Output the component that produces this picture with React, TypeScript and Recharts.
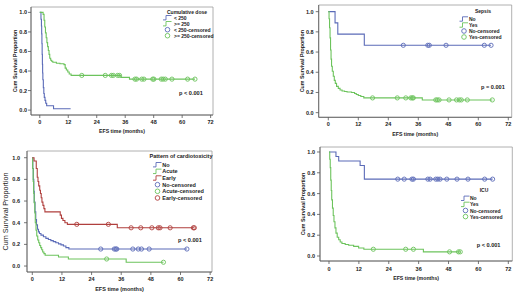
import React from 'react';
import { ComposedChart, Line, Scatter, XAxis, YAxis, ReferenceArea, Legend } from 'recharts';

const BLUE = '#5b6bb8';
const GREEN = '#6cc35c';
const RED = '#b03f3d';
const FONT = '"Liberation Sans", Arial, sans-serif';

const monthTicks = [0, 12, 24, 36, 48, 60, 72];
const survTicks = [0, 0.2, 0.4, 0.6, 0.8, 1.0];

// Cumulative dose: < 250
const doseLowT = [0, 0.5, 0.7, 0.8, 0.9, 1.0, 1.1, 1.2, 1.3, 1.5, 1.7, 1.9, 2.2, 2.5, 2.9, 5.8, 13];
const doseLowS = [1.0, 0.93, 0.86, 0.78, 0.68, 0.57, 0.47, 0.38, 0.31, 0.23, 0.17, 0.13, 0.1, 0.07, 0.045, 0.014, 0.014];
// Cumulative dose: >= 250
const doseHighT = [0, 1.4, 1.8, 2.1, 2.4, 2.7, 3.0, 3.3, 3.6, 3.9, 4.2, 4.6, 5.0, 5.5, 7.0, 8.5, 10.2, 10.7, 11.2, 11.8, 12.4, 13.2, 34.2, 37.8, 65.4];
const doseHighS = [1.0, 0.98, 0.92, 0.85, 0.79, 0.74, 0.69, 0.65, 0.61, 0.57, 0.53, 0.51, 0.5, 0.49, 0.48, 0.475, 0.465, 0.43, 0.41, 0.39, 0.37, 0.355, 0.335, 0.317, 0.317];
const doseHighCensA = [17.7, 27.6, 30.2, 31, 32.8, 33.6];
const doseHighCensB = [40.1, 40.8, 43, 43.9, 47.6, 48.1, 51.2, 52, 52.9, 55.7, 62.3, 65.4];

// Sepsis: No / Yes
const sepsisNoT = [0, 2.7, 3.8, 14.4, 65.1];
const sepsisNoS = [1, 0.889, 0.778, 0.667, 0.667];
const sepsisNoCens = [30, 39.8, 40.4, 47.1, 62.4, 65.1];
const sepsisYesT = [0, 0.3, 0.5, 0.7, 0.9, 1.1, 1.3, 1.6, 2.0, 2.4, 2.8, 3.3, 4.0, 4.7, 5.5, 6.5, 7.5, 9.3, 10.5, 11.2, 12, 13, 14.2, 37.6, 65.6];
const sepsisYesS = [1, 0.93, 0.84, 0.74, 0.62, 0.53, 0.46, 0.41, 0.36, 0.32, 0.29, 0.26, 0.24, 0.225, 0.215, 0.21, 0.205, 0.2, 0.19, 0.18, 0.17, 0.16, 0.146, 0.126, 0.126];
const sepsisYesCensA = [17.7, 27.6, 31, 33, 33.6, 34];
const sepsisYesCensB = [43, 43.6, 44.3, 48.3, 51.3, 52.4, 53.2, 55.6, 65.6];

// Pattern of cardiotoxicity: No / Acute / Early
const cardioNoT = [0, 0.2, 0.4, 0.6, 0.8, 1.1, 1.4, 1.7, 2.1, 2.5, 2.9, 3.5, 4.5, 5.5, 6.5, 7.5, 8.5, 9.5, 10.6, 11.6, 12.6, 13.6, 14.8, 62.6];
const cardioNoS = [1, 0.9, 0.8, 0.69, 0.59, 0.5, 0.43, 0.38, 0.34, 0.315, 0.3, 0.285, 0.27, 0.255, 0.245, 0.235, 0.225, 0.215, 0.205, 0.195, 0.185, 0.17, 0.157, 0.157];
const cardioNoCens = [27.7, 33.2, 33.8, 34.2, 40.7, 42.9, 44.2, 47.3, 62.6];
const cardioAcuteT = [0, 0.15, 0.35, 0.55, 0.75, 1.0, 1.2, 1.5, 1.8, 2.2, 2.6, 3.0, 3.4, 3.8, 4.2, 4.7, 5.2, 10.6, 14.6, 38, 53.1];
const cardioAcuteS = [1, 0.9, 0.78, 0.67, 0.585, 0.49, 0.4, 0.33, 0.277, 0.24, 0.215, 0.19, 0.17, 0.15, 0.13, 0.115, 0.1, 0.083, 0.065, 0.035, 0.035];
const cardioAcuteCensA = [30.1];
const cardioAcuteCensB = [53.1];
const cardioEarlyT = [0, 0.7, 1.6, 2.0, 2.3, 2.6, 3.0, 3.3, 3.6, 3.9, 4.3, 4.7, 5.1, 11.3, 11.8, 12.4, 13.2, 14.2, 34.4, 65.6];
const cardioEarlyS = [1, 0.97, 0.9, 0.82, 0.78, 0.74, 0.7, 0.67, 0.63, 0.59, 0.56, 0.53, 0.5, 0.47, 0.44, 0.42, 0.4, 0.385, 0.353, 0.353];
const cardioEarlyCensA = [18, 30.8];
const cardioEarlyCensB = [40, 43.9, 48.4, 51, 51.7, 55.8, 65.2, 65.6];

// ICU: No / Yes
const icuNoT = [0, 2.8, 3.9, 12.5, 14.2, 65.7];
const icuNoS = [1, 0.957, 0.913, 0.87, 0.739, 0.739];
const icuNoCens = [27.6, 30.2, 33.3, 33.9, 39.7, 40.6, 42.9, 43.7, 44.6, 47.3, 51.4, 55.8, 62.5, 65.7];
const icuYesT = [0, 0.3, 0.5, 0.7, 0.9, 1.1, 1.4, 1.7, 2.0, 2.4, 2.8, 3.3, 3.9, 4.5, 5.2, 6.5, 7.9, 9.9, 11.9, 14.0, 37.9, 52.7];
const icuYesS = [1, 0.93, 0.85, 0.73, 0.63, 0.54, 0.46, 0.39, 0.33, 0.27, 0.22, 0.18, 0.157, 0.135, 0.12, 0.11, 0.103, 0.093, 0.077, 0.065, 0.04, 0.04];
const icuYesCensA = [17.8, 30.8, 33.9];
const icuYesCensB = [48.4, 52, 52.7];

const steps = (t: number[], s: number[]) => t.map((x, i) => ({ t: x, s: s[i] }));
const marks = (t: number[], level: number) => t.map((x) => ({ t: x, s: level }));

type LegendItem = { kind: 'line' | 'circle'; color: string; label: string };

function KMLegend({ title, items, w, titleY, rowY, rowH, iconX, textX, fs }: any) {
  const h = rowY + rowH * items.length;
  const txt = { fontFamily: FONT, fontSize: fs, fontWeight: 'bold' as const, fill: '#222' };
  return (
    <svg width={w} height={h} style={{ display: 'block', overflow: 'visible' }}>
      <text x={w / 2} y={titleY} textAnchor="middle" dominantBaseline="central" {...txt}>{title}</text>
      {items.map((it: LegendItem, i: number) => {
        const y = rowY + i * rowH;
        return (
          <g key={i}>
            {it.kind === 'line' ? (
              <path d={`M${iconX},${y + 2.2} h3 v-4.4 h5.5`} stroke={it.color} strokeWidth={0.9} fill="none" />
            ) : (
              <circle cx={iconX + 4.5} cy={y} r={2.3} stroke={it.color} strokeWidth={0.9} fill="none" />
            )}
            <text x={textX} y={y} dominantBaseline="central" {...txt}>{it.label}</text>
          </g>
        );
      })}
    </svg>
  );
}

const circleShape = (color: string) => (props: any) => (
  <circle cx={props.cx} cy={props.cy} r={2.1} stroke={color} strokeWidth={0.9} fill="none" />
);

function KMPanel(p: any) {
  const tickStyle = { fontSize: p.tickFs ?? 5.5, fill: '#222', fontWeight: 'bold', fontFamily: FONT };
  const axisStroke = { stroke: '#555', strokeWidth: 0.8 };
  return (
    <div style={{ position: 'absolute', left: p.left, top: p.top, width: p.width, height: p.height }}>
      <ComposedChart width={p.width} height={p.height} margin={p.margin}>
        <XAxis
          type="number"
          dataKey="t"
          domain={p.xDomain}
          ticks={monthTicks}
          allowDataOverflow
          height={p.xh}
          tick={tickStyle}
          tickSize={3}
          tickMargin={p.xTickMargin}
          axisLine={axisStroke}
          tickLine={axisStroke}
          label={{
            value: 'EFS time (months)',
            position: 'insideBottom',
            offset: p.xLabelOffset,
            style: { fontSize: p.xLabelFs ?? 5.2, fontWeight: 'bold', fill: '#222', fontFamily: FONT },
          }}
        />
        <YAxis
          type="number"
          dataKey="s"
          domain={p.yDomain}
          ticks={survTicks}
          allowDataOverflow
          width={p.yw}
          tick={tickStyle}
          tickSize={3}
          tickMargin={p.yTickMargin}
          tickFormatter={(v: number) => v.toFixed(1)}
          axisLine={axisStroke}
          tickLine={axisStroke}
          label={{
            value: 'Cum Survival Proportion',
            angle: -90,
            position: 'insideLeft',
            offset: p.yLabelOffset,
            style: {
              textAnchor: 'middle',
              fontSize: p.yLabelFs ?? 5.3,
              fontWeight: p.yLabelWeight ?? 'bold',
              fill: '#222',
              fontFamily: FONT,
            },
          }}
        />
        <ReferenceArea
          x1={p.xDomain[0]}
          x2={p.xDomain[1]}
          y1={p.yDomain[0]}
          y2={p.yDomain[1]}
          fill="none"
          stroke="#9d9d9d"
          strokeWidth={0.8}
          ifOverflow="visible"
        />
        {p.curves.map((c: any, i: number) => (
          <Line
            key={'c' + i}
            data={c.data}
            dataKey="s"
            type="stepAfter"
            stroke={c.color}
            strokeWidth={1.1}
            dot={false}
            isAnimationActive={false}
          />
        ))}
        {p.censored.map((c: any, i: number) => (
          <Scatter
            key={'m' + i}
            data={c.data}
            dataKey="s"
            shape={circleShape(c.color)}
            isAnimationActive={false}
          />
        ))}
        <Legend
          layout="vertical"
          align="center"
          verticalAlign="middle"
          wrapperStyle={{ left: p.legend.left, top: p.legend.top, width: p.legend.w }}
          content={() => <KMLegend {...p.legend} />}
        />
      </ComposedChart>
      <div
        style={{
          position: 'absolute',
          left: p.pText.left,
          top: p.pText.cy - 4,
          height: 8,
          lineHeight: '8px',
          fontFamily: FONT,
          fontSize: 5.6,
          fontWeight: 'bold',
          color: '#222',
          whiteSpace: 'nowrap',
        }}
      >
        {p.pText.text}
      </div>
    </div>
  );
}

export default function App() {
  return (
    <div style={{ position: 'absolute', left: 0, top: 0, width: 520, height: 293, background: '#fff', overflow: 'hidden' }}>
      <KMPanel
        left={0}
        top={0}
        width={260}
        height={146}
        margin={{ top: 7, right: 47, bottom: 0, left: 0 }}
        yw={31}
        xh={31}
        xDomain={[-3.7, 73]}
        yDomain={[-0.05, 1.055]}
        yTickMargin={1}
        xTickMargin={2}
        yLabelOffset={15}
        xLabelOffset={13}
        curves={[
          { data: steps(doseLowT, doseLowS), color: BLUE },
          { data: steps(doseHighT, doseHighS), color: GREEN },
        ]}
        censored={[
          { data: marks(doseHighCensA, 0.355), color: GREEN },
          { data: marks(doseHighCensB, 0.317), color: GREEN },
        ]}
        legend={{
          left: 161, top: 7, w: 52, titleY: 4.7, rowY: 10.7, rowH: 6, iconX: 2, textX: 13, fs: 5,
          title: 'Cumulative dose',
          items: [
            { kind: 'line', color: BLUE, label: '< 250' },
            { kind: 'line', color: GREEN, label: '>= 250' },
            { kind: 'circle', color: BLUE, label: '< 250-censored' },
            { kind: 'circle', color: GREEN, label: '>= 250-censored' },
          ],
        }}
        pText={{ text: 'p < 0.001', left: 179, cy: 92.7 }}
      />
      <KMPanel
        left={260}
        top={0}
        width={260}
        height={146}
        margin={{ top: 5, right: 8.3, bottom: 0, left: 0 }}
        yw={58.7}
        xh={28.7}
        xDomain={[-3.84, 73.36]}
        yDomain={[-0.046, 1.066]}
        yTickMargin={2}
        xTickMargin={2}
        yLabelOffset={42.3}
        xLabelOffset={10}
        curves={[
          { data: steps(sepsisNoT, sepsisNoS), color: BLUE },
          { data: steps(sepsisYesT, sepsisYesS), color: GREEN },
        ]}
        censored={[
          { data: marks(sepsisNoCens, 0.667), color: BLUE },
          { data: marks(sepsisYesCensA, 0.146), color: GREEN },
          { data: marks(sepsisYesCensB, 0.126), color: GREEN },
        ]}
        legend={{
          left: 198, top: 5, w: 50, titleY: 6, rowY: 14, rowH: 6, iconX: 1.5, textX: 11, fs: 5,
          title: 'Sepsis',
          items: [
            { kind: 'line', color: BLUE, label: 'No' },
            { kind: 'line', color: GREEN, label: 'Yes' },
            { kind: 'circle', color: BLUE, label: 'No-censored' },
            { kind: 'circle', color: GREEN, label: 'Yes-censored' },
          ],
        }}
        pText={{ text: 'p = 0.001', left: 221, cy: 86.7 }}
      />
      <KMPanel
        left={0}
        top={146}
        width={260}
        height={147}
        margin={{ top: 5, right: 48, bottom: 0, left: 0 }}
        yw={27}
        xh={21}
        xDomain={[-2.15, 72.75]}
        yDomain={[-0.055, 1.062]}
        yTickMargin={4}
        xTickMargin={1.6}
        yLabelOffset={5}
        xLabelOffset={2.5}
        yLabelFs={7.2}
        yLabelWeight="normal"
        xLabelFs={5.5}
        curves={[
          { data: steps(cardioNoT, cardioNoS), color: BLUE },
          { data: steps(cardioAcuteT, cardioAcuteS), color: GREEN },
          { data: steps(cardioEarlyT, cardioEarlyS), color: RED },
        ]}
        censored={[
          { data: marks(cardioNoCens, 0.157), color: BLUE },
          { data: marks(cardioAcuteCensA, 0.065), color: GREEN },
          { data: marks(cardioAcuteCensB, 0.035), color: GREEN },
          { data: marks(cardioEarlyCensA, 0.385), color: RED },
          { data: marks(cardioEarlyCensB, 0.353), color: RED },
        ]}
        legend={{
          left: 150, top: 3, w: 62, titleY: 7.3, rowY: 15.7, rowH: 6.65, iconX: 3, textX: 12.3, fs: 5.5,
          title: 'Pattern of cardiotoxicity',
          items: [
            { kind: 'line', color: BLUE, label: 'No' },
            { kind: 'line', color: GREEN, label: 'Acute' },
            { kind: 'line', color: RED, label: 'Early' },
            { kind: 'circle', color: BLUE, label: 'No-censored' },
            { kind: 'circle', color: GREEN, label: 'Acute-censored' },
            { kind: 'circle', color: RED, label: 'Early-censored' },
          ],
        }}
        pText={{ text: 'p < 0.001', left: 178, cy: 93.7 }}
      />
      <KMPanel
        left={260}
        top={146}
        width={260}
        height={147}
        margin={{ top: 1, right: 7.7, bottom: 0, left: 0 }}
        yw={60}
        xh={32}
        xDomain={[-3.61, 73.6]}
        yDomain={[-0.048, 1.048]}
        yTickMargin={2}
        xTickMargin={2.7}
        yLabelOffset={42.7}
        xLabelOffset={13}
        curves={[
          { data: steps(icuNoT, icuNoS), color: BLUE },
          { data: steps(icuYesT, icuYesS), color: GREEN },
        ]}
        censored={[
          { data: marks(icuNoCens, 0.739), color: BLUE },
          { data: marks(icuYesCensA, 0.065), color: GREEN },
          { data: marks(icuYesCensB, 0.04), color: GREEN },
        ]}
        legend={{
          left: 199, top: 40, w: 50, titleY: 4.3, rowY: 12.3, rowH: 6.1, iconX: 2, textX: 11, fs: 5,
          title: 'ICU',
          items: [
            { kind: 'line', color: BLUE, label: 'No' },
            { kind: 'line', color: GREEN, label: 'Yes' },
            { kind: 'circle', color: BLUE, label: 'No-censored' },
            { kind: 'circle', color: GREEN, label: 'Yes-censored' },
          ],
        }}
        pText={{ text: 'p < 0.001', left: 216.7, cy: 98.7 }}
      />
    </div>
  );
}
